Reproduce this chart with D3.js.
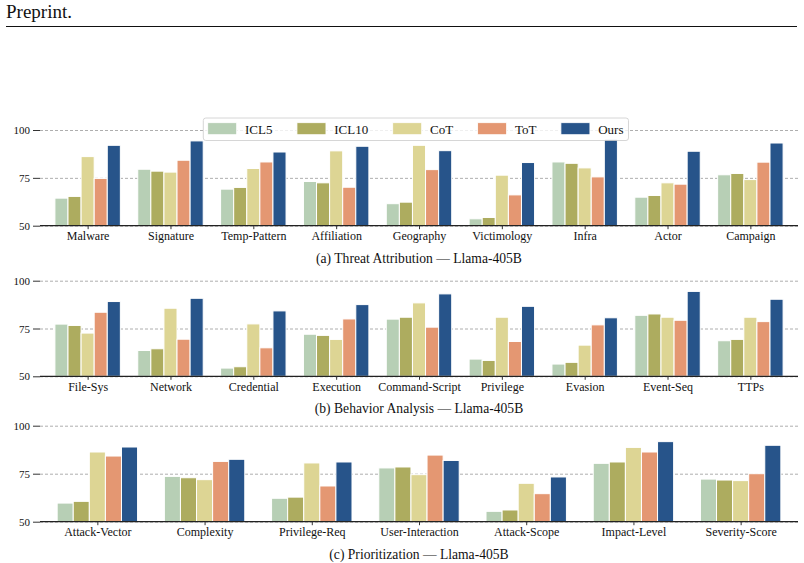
<!DOCTYPE html>
<html><head><meta charset="utf-8">
<script src="https://cdn.jsdelivr.net/npm/d3@7"></script>
<style>
body{margin:0;background:#fff}
svg{display:block}
text{font-family:"Liberation Serif","DejaVu Serif",serif;fill:#111}
</style>
</head><body>
<svg id="chart" width="804" height="563"></svg>
<script>
// ---------- data ----------
const seriesNames = ["ICL5", "ICL10", "CoT", "ToT", "Ours"];
const seriesColors = ["#b7cfb5", "#adac5f", "#ddd594", "#e49772", "#27548a"];
const yTickValues = [50, 75, 100];

const threatCats = ["Malware","Signature","Temp-Pattern","Affiliation","Geography","Victimology","Infra","Actor","Campaign"];
const threatICL5  = [64.4, 79.5, 69.1, 73.1, 61.5, 53.6, 83.3, 64.9, 76.6];
const threatICL10 = [65.3, 78.5, 70.0, 72.4, 62.3, 54.3, 82.6, 65.8, 77.3];
const threatCoT   = [86.1, 78.0, 79.9, 89.1, 92.0, 76.4, 80.2, 72.4, 74.1];
const threatToT   = [74.7, 84.2, 83.3, 70.1, 79.3, 66.1, 75.5, 71.7, 83.2];
const threatOurs  = [92.0, 94.3, 88.5, 91.5, 89.2, 83.0, 95.2, 88.9, 93.2];

const behaviorCats = ["File-Sys","Network","Credential","Execution","Command-Script","Privilege","Evasion","Event-Seq","TTPs"];
const behaviorICL5  = [77.3, 63.5, 54.3, 72.0, 79.9, 59.0, 56.4, 81.9, 68.6];
const behaviorICL10 = [76.6, 64.4, 55.0, 71.4, 80.9, 58.3, 57.3, 82.6, 69.3];
const behaviorCoT   = [72.6, 85.6, 77.4, 69.3, 88.4, 80.9, 66.3, 80.9, 80.9];
const behaviorToT   = [83.5, 69.4, 64.9, 80.0, 75.7, 68.2, 76.9, 79.3, 78.6];
const behaviorOurs  = [89.1, 90.8, 84.2, 87.5, 93.1, 86.6, 80.6, 94.4, 90.3];

const prioCats = ["Attack-Vector","Complexity","Privilege-Req","User-Interaction","Attack-Scope","Impact-Level","Severity-Score"];
const prioICL5  = [59.7, 73.6, 62.2, 78.0, 55.4, 80.4, 72.2];
const prioICL10 = [60.6, 72.9, 62.8, 78.5, 56.1, 81.1, 71.7];
const prioCoT   = [86.3, 71.9, 80.6, 74.5, 70.0, 88.7, 71.4];
const prioToT   = [84.2, 81.4, 68.6, 84.7, 64.6, 86.3, 75.0];
const prioOurs  = [88.9, 82.5, 81.1, 81.9, 73.3, 91.7, 89.8];

const panels = [
  {cats: threatCats, vals: [threatICL5, threatICL10, threatCoT, threatToT, threatOurs],
   caption: "(a) Threat Attribution \u2014 Llama-405B", y100: 130, y50: 225.7, pad: 0.575, bw: 0.158, legend: true},
  {cats: behaviorCats, vals: [behaviorICL5, behaviorICL10, behaviorCoT, behaviorToT, behaviorOurs],
   caption: "(b) Behavior Analysis \u2014 Llama-405B", y100: 280.7, y50: 376.3, pad: 0.575, bw: 0.158},
  {cats: prioCats, vals: [prioICL5, prioICL10, prioCoT, prioToT, prioOurs],
   caption: "(c) Prioritization \u2014 Llama-405B", y100: 425.7, y50: 521.7, pad: 0.535, bw: 0.15}
];

// ---------- drawing ----------
const svg = d3.select("#chart");
const X0 = 40, X1 = 798;

// header
svg.append("text").attr("x", 6).attr("y", 18).style("font-size", "19px").text("Preprint.");
svg.append("line").attr("x1", 6).attr("x2", 797).attr("y1", 26.5).attr("y2", 26.5)
  .attr("stroke", "#111").attr("stroke-width", 1);

panels.forEach(p => {
  const n = p.cats.length;
  const x = d3.scaleLinear().domain([-p.pad, n - 1 + p.pad]).range([X0, X1]);
  const y = d3.scaleLinear().domain([50, 100]).range([p.y50, p.y100]);
  const step = x(1) - x(0);
  const bwPx = p.bw * step;
  const g = svg.append("g");

  // grid lines
  const grid = g.append("g").attr("transform", `translate(${X0},0)`)
    .call(d3.axisLeft(y).tickValues(yTickValues).tickSize(-(X1 - X0)).tickFormat(""));
  grid.select(".domain").remove();
  grid.selectAll("line").attr("stroke", "#999").attr("stroke-width", 0.8).attr("stroke-dasharray", "3,2");

  // bars
  seriesNames.forEach((s, j) => {
    g.append("g").selectAll("rect").data(p.vals[j]).join("rect")
      .attr("x", (d, i) => x(i) + (j - 2.5) * bwPx)
      .attr("width", bwPx)
      .attr("y", d => y(d))
      .attr("height", d => y(50) - y(d))
      .attr("fill", seriesColors[j])
      .attr("stroke", "#fff").attr("stroke-width", 1);
  });

  // y axis (ticks + labels, no spine)
  const ya = g.append("g").attr("transform", `translate(${X0},0)`)
    .call(d3.axisLeft(y).tickValues(yTickValues).tickSize(7).tickPadding(3));
  ya.select(".domain").remove();
  ya.selectAll("line").attr("stroke", "#333").attr("stroke-width", 1);
  ya.selectAll("text").style("font-size", "11px").style("font-family", '"Liberation Serif",serif').attr("fill", "#111");

  // x axis
  const xa = g.append("g").attr("transform", `translate(0,${p.y50})`)
    .call(d3.axisBottom(x).tickValues(d3.range(n)).tickFormat(i => p.cats[i]).tickSize(3.5).tickPadding(2.5).tickSizeOuter(0));
  xa.select(".domain").attr("d", `M${X0},0H${X1}`).attr("stroke", "#222").attr("stroke-width", 1.2);
  xa.selectAll("line").attr("stroke", "#333").attr("stroke-width", 1);
  xa.selectAll("text").style("font-size", "12px").style("font-family", '"Liberation Serif",serif').attr("fill", "#111");

  // caption
  g.append("text").attr("x", (X0 + X1) / 2).attr("y", p.y50 + 37)
    .attr("text-anchor", "middle").style("font-size", "13.6px").text(p.caption);

  // legend
  if (p.legend) {
    const lg = svg.append("g");
    const frame = lg.append("rect").attr("x", 203.3).attr("y", 118).attr("height", 22.5).attr("rx", 2.5)
      .attr("fill", "#fff").attr("fill-opacity", 0.8).attr("stroke", "#ccc").attr("stroke-width", 0.8);
    let cx = 207.7;
    seriesNames.forEach((s, j) => {
      lg.append("rect").attr("x", cx).attr("y", 122.7).attr("width", 29).attr("height", 12)
        .attr("fill", seriesColors[j]).attr("stroke", "#fff").attr("stroke-width", 0.8);
      const t = lg.append("text").attr("x", cx + 37.3).attr("y", 133.5).style("font-size", "13px").text(s);
      const w = t.node().getComputedTextLength();
      if (j < seriesNames.length - 1) cx = cx + 37.3 + w + 24.5;
      else frame.attr("width", cx + 37.3 + w + 5 - 203.3);
    });
  }
});
</script>
</body></html>
